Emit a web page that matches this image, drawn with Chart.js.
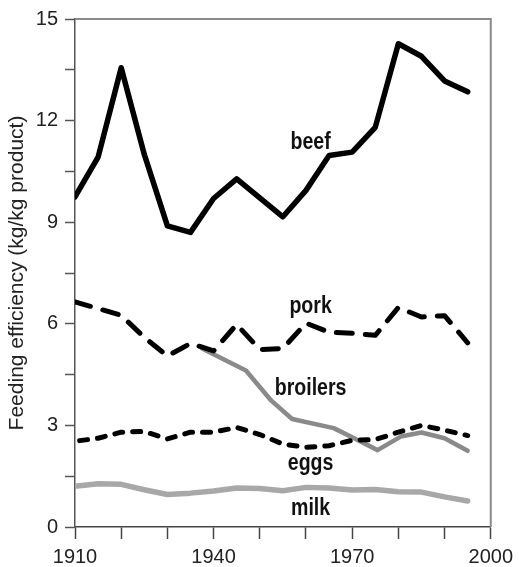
<!DOCTYPE html>
<html>
<head>
<meta charset="utf-8">
<script src="https://cdn.jsdelivr.net/npm/chart.js@4/dist/chart.umd.min.js"></script>
<style>
  html, body { margin: 0; padding: 0; background: #fff; }
  .chart-container { width: 519px; height: 567px; position: relative; }
</style>
</head>
<body>
<div class="chart-container">
  <canvas id="myChart"></canvas>
</div>
<script>
// values (kg feed per kg product)
const years = [1910, 1915, 1920, 1925, 1930, 1935, 1940, 1945, 1950,
               1955, 1960, 1965, 1970, 1975, 1980, 1985, 1990, 1995];
const beef = [9.75, 10.92, 13.56, 11.0, 8.89, 8.7, 9.7, 10.28, 9.72,
              9.16, 9.94, 10.97, 11.07, 11.8, 14.27, 13.9, 13.17, 12.85];
const pork = [6.65, 6.45, 6.25, 5.6, 5.05, 5.42, 5.2, 5.98, 5.24,
              5.27, 6.02, 5.75, 5.72, 5.66, 6.48, 6.2, 6.24, 5.44];
const eggYears = [1911, 1915, 1920, 1925, 1930, 1935, 1940, 1945, 1950,
                  1955, 1960, 1965, 1970, 1975, 1980, 1985, 1990, 1995];
const eggs = [2.55, 2.62, 2.8, 2.82, 2.6, 2.8, 2.8, 2.94, 2.73,
              2.45, 2.35, 2.4, 2.56, 2.58, 2.8, 3.0, 2.86, 2.7];
const milk = [1.2, 1.28, 1.26, 1.1, 0.96, 1.0, 1.06, 1.15, 1.14,
              1.07, 1.17, 1.15, 1.09, 1.11, 1.04, 1.03, 0.89, 0.77];
const broilerYears = [1937.5, 1947, 1952.5, 1957, 1966, 1970, 1975.5, 1980.5, 1985, 1990, 1995];
const broilers = [5.27, 4.62, 3.73, 3.19, 2.92, 2.65, 2.27, 2.67, 2.79, 2.62, 2.25];

const xTicks = [1910, 1940, 1970, 2000];
const yTicks = [0, 3, 6, 9, 12, 15];

const FONT = '"Liberation Sans", Arial, sans-serif';

const pts = (xs, ys) => xs.map((x, i) => ({ x: x, y: ys[i] }));

// series names written next to the lines
const seriesLabels = [
  { text: 'beef', x: 1961, y: 11.35 },
  { text: 'pork', x: 1961, y: 6.5 },
  { text: 'broilers', x: 1961, y: 4.1 },
  { text: 'eggs', x: 1961, y: 1.88 },
  { text: 'milk', x: 1961, y: 0.55 },
];

const framePlugin = {
  id: 'frame',
  beforeDatasetsDraw(chart) {
    const { ctx, chartArea: a } = chart;
    ctx.save();
    ctx.strokeStyle = '#8a8a8a';
    ctx.lineWidth = 2;
    ctx.beginPath();
    ctx.moveTo(a.left, a.top);
    ctx.lineTo(a.right, a.top);
    ctx.lineTo(a.right, a.bottom);
    ctx.stroke();
    ctx.restore();
  },
  afterDatasetsDraw(chart) {
    const { ctx, scales } = chart;
    ctx.save();
    ctx.fillStyle = '#111';
    ctx.font = 'bold 19px ' + FONT;
    ctx.textAlign = 'center';
    ctx.textBaseline = 'middle';
    seriesLabels.forEach((l) => {
      const px = scales.x.getPixelForValue(l.x);
      const py = scales.y.getPixelForValue(l.y);
      ctx.save();
      ctx.translate(px, py);
      ctx.scale(1.03, 1.22);
      ctx.fillText(l.text, 0, 0);
      ctx.restore();
    });
    ctx.restore();
  },
};

const common = {
  pointRadius: 0,
  tension: 0,
  borderCapStyle: 'round',
  borderJoinStyle: 'round',
};

new Chart(document.getElementById('myChart').getContext('2d'), {
  type: 'line',
  data: {
    datasets: [
      { ...common, label: 'beef', data: pts(years, beef), borderColor: '#000', borderWidth: 5.5 },
      { ...common, label: 'pork', data: pts(years, pork), borderColor: '#000', borderWidth: 5, borderDash: [16, 13] },
      { ...common, label: 'eggs', data: pts(eggYears, eggs), borderColor: '#000', borderWidth: 5, borderDash: [8, 10] },
      { ...common, label: 'broilers', data: pts(broilerYears, broilers), borderColor: '#8a8a8a', borderWidth: 4.5 },
      { ...common, label: 'milk', data: pts(years, milk), borderColor: '#a8a8a8', borderWidth: 5.5 },
    ],
  },
  options: {
    responsive: true,
    maintainAspectRatio: false,
    animation: false,
    layout: { padding: { top: 16, right: 17, left: 0, bottom: 0 } },
    plugins: {
      legend: { display: false },
      tooltip: { enabled: false },
    },
    scales: {
      x: {
        type: 'linear',
        min: 1910,
        max: 2000,
        afterFit: (s) => { s.height = 40; },
        ticks: {
          stepSize: 10,
          autoSkip: false,
          maxRotation: 0,
          padding: 6,
          color: '#222',
          font: { family: FONT, size: 20 },
          callback: (v) => (xTicks.includes(v) ? String(v) : ''),
        },
        grid: { drawOnChartArea: false, tickLength: 12, tickColor: '#444', tickWidth: 1.5 },
        border: { color: '#444', width: 1.5 },
      },
      y: {
        min: 0,
        max: 15,
        afterFit: (s) => { s.width = 75; },
        ticks: {
          stepSize: 1.5,
          autoSkip: false,
          padding: 7,
          color: '#222',
          font: { family: FONT, size: 20 },
          callback: (v) => {
            const hit = yTicks.find((t) => Math.abs(t - v) < 1e-6);
            return hit === undefined ? '' : String(hit);
          },
        },
        grid: { drawOnChartArea: false, tickLength: 10, tickColor: '#555', tickWidth: 1.5 },
        border: { color: '#555', width: 1.5 },
        title: {
          display: true,
          text: 'Feeding efficiency (kg/kg product)',
          color: '#222',
          font: { family: FONT, size: 21 },
          padding: { top: 5, bottom: 0 },
        },
      },
    },
  },
  plugins: [framePlugin],
});
</script>
</body>
</html>
